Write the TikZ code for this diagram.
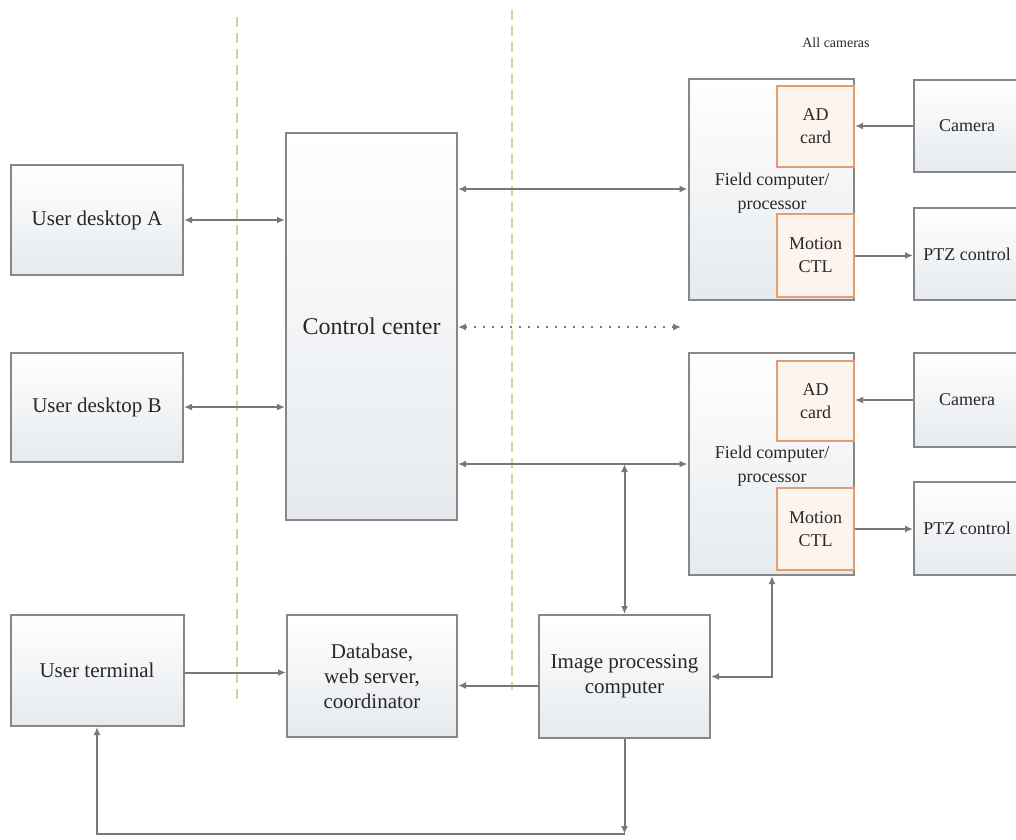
\documentclass[tikz,border=0pt]{standalone}
\usepackage{fontspec}
\setmainfont{Liberation Serif}
\usetikzlibrary{arrows.meta}
\definecolor{edge}{RGB}{135,135,135}
\definecolor{wire}{RGB}{120,120,120}
\definecolor{shade}{RGB}{230,234,238}
\definecolor{cardline}{RGB}{226,158,110}
\definecolor{cardfill}{RGB}{253,244,238}
\definecolor{ink}{RGB}{40,40,40}
\definecolor{splitgreen}{RGB}{196,218,160}
\tikzset{base/.style={draw=edge, line width=2pt, text=ink, align=center, inner sep=0pt},
         box/.style={base, top color=white, bottom color=shade, font=\fontsize{21}{25}\selectfont},
         card/.style={base, draw=cardline, fill=cardfill, font=\fontsize{18}{23}\selectfont},
         feed/.style={wire, line width=2pt, -{Latex[length=8pt,width=7pt]}},
         link/.style={wire, line width=2pt, {Latex[length=8pt,width=7pt]}-{Latex[length=8pt,width=7pt]}},
         divider/.style={splitgreen, line width=1.5pt, dash pattern=on 10pt off 6pt}}

\begin{document}
\begin{tikzpicture}[x=1pt,y=-1pt]
   \useasboundingbox (0,0) rectangle (1016,839);
   \draw[divider] (237,17) -- (237,700);
   \draw[divider] (512,10) -- (512,690);
   \node[box, minimum width=172, minimum height=110] (deskA) at (97,220)   {User desktop A};
   \node[box, minimum width=172, minimum height=109] (deskB) at (97,407)   {User desktop B};
   \node[box, minimum width=173, minimum height=111] (term)  at (97,670.5) {User terminal};
   \node[box, minimum width=171, minimum height=387, font=\fontsize{24}{28}\selectfont] (ctrl) at (371.5,326.5) {Control center};
   \node[box, minimum width=170, minimum height=122] (db)    at (372,676)   {Database,\\web server,\\coordinator};
   \node[box, minimum width=171, minimum height=123] (imgp)  at (624.5,676.5) {Image processing\\computer};
   \node[text=ink, font=\fontsize{14}{17}\selectfont] (all) at (836,43) {All cameras};
   \begin{scope}
    \node[box, minimum width=165, minimum height=221] (fieldA) at (771,189) {};
    \node[text=ink, align=center, font=\fontsize{18}{24}\selectfont] (fieldAtxt) at (772,193) {Field computer/\\processor};
    \node[card, minimum width=77, minimum height=81] (adA)  at (815.5,126.5) {AD\\card};
    \node[card, minimum width=77, minimum height=83] (motA) at (815.5,255.5) {Motion\\CTL};
    \node[box, minimum width=106, minimum height=92, font=\fontsize{18}{22}\selectfont] (camA) at (967,126) {Camera};
    \node[box, minimum width=106, minimum height=92, font=\fontsize{18}{22}\selectfont] (ptzA) at (967,254) {PTZ control};
   \end{scope}
   \begin{scope}
    \node[box, minimum width=165, minimum height=222] (fieldB) at (771,464) {};
    \node[text=ink, align=center, font=\fontsize{18}{24}\selectfont] (fieldBtxt) at (772,466) {Field computer/\\processor};
    \node[card, minimum width=77, minimum height=80] (adB)  at (815.5,401) {AD\\card};
    \node[card, minimum width=77, minimum height=82] (motB) at (815.5,529) {Motion\\CTL};
    \node[box, minimum width=106, minimum height=94, font=\fontsize{18}{22}\selectfont] (camB) at (967,400) {Camera};
    \node[box, minimum width=106, minimum height=93, font=\fontsize{18}{22}\selectfont] (ptzB) at (967,528.5) {PTZ control};
   \end{scope}
   \coordinate (dots) at (681,327);
   \coordinate (loop) at (624.5,834);
   \draw[link] (deskA.east) -- (deskA.east -| ctrl.west);
   \draw[link] (deskB.east) -- (deskB.east -| ctrl.west);
   \draw[link] (ctrl.east |- fieldA.west) -- (fieldA.west);
   \draw[link, line width=2.2pt, dash pattern=on 2pt off 7pt] (ctrl.east |- dots) -- (dots);
   \draw[link] (ctrl.east |- fieldB.west) -- (fieldB.west);
   \draw[link] (imgp.north |- fieldB.west) -- (imgp.north);
   \draw[link] (imgp.east) -| (fieldB.south -| 772,0);
   \draw[feed] (camA.west) -- (camA.west -| adA.east);
   \draw[feed] (motA.east) -- (motA.east -| ptzA.west);
   \draw[feed] (camB.west) -- (camB.west -| adB.east);
   \draw[feed] (motB.east) -- (motB.east -| ptzB.west);
   \draw[feed] ([yshift=-2pt]term.east) -- ([yshift=-2pt]term.east -| db.west);
   \draw[feed] ([yshift=-9pt]imgp.west) -- ([yshift=-9pt]imgp.west -| db.east);
   \draw[feed] (imgp.south) -- (loop);
   \draw[feed] (loop) -| (term.south);
\end{tikzpicture}
\end{document}
